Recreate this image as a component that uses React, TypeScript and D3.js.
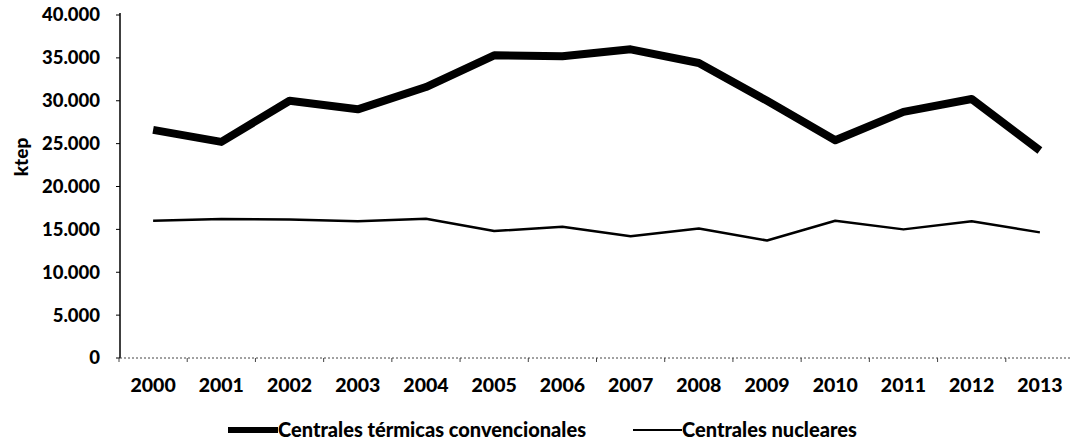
import React from "react";
import * as d3 from "d3";

const years = ["2000","2001","2002","2003","2004","2005","2006","2007","2008","2009","2010","2011","2012","2013"];
const termicas = [26600, 25200, 30000, 29000, 31600, 35300, 35200, 36000, 34400, 30000, 25400, 28700, 30200, 24200];
const nucleares = [16000, 16200, 16150, 15950, 16250, 14800, 15300, 14200, 15100, 13700, 16000, 15000, 15950, 14650];
const yTicks = [0, 5000, 10000, 15000, 20000, 25000, 30000, 35000, 40000];
const seriesNames = ["Centrales térmicas convencionales", "Centrales nucleares"];

const W = 1070, H = 444;
const FONT = "Lato, 'Open Sans', sans-serif";

const fmt = (v: number) => (v === 0 ? "0" : d3.format(",")(v).replace(/,/g, "."));

export default function App() {
  const x = d3.scaleBand<string>().domain(years).range([119, 1074]).padding(0);
  const y = d3.scaleLinear().domain([0, 40000]).range([358, 15]);
  const cx = (i: number) => (x(years[i]) as number) + x.bandwidth() / 2;
  const line = d3.line<number>().x((_, i) => cx(i)).y((d) => y(d));
  const boundaries = years.map((yr) => x(yr) as number).concat([x.range()[1]]);

  return (
    <svg width={W} height={H} style={{ position: "absolute", left: 0, top: 0, background: "#fff" }} fontFamily={FONT}>
      <rect x={0} y={0} width={W} height={H} fill="#fff" />
      {/* y axis */}
      <line x1={120} x2={120} y1={y(40000) - 2} y2={y(0)} stroke="#000" strokeWidth={1.5} />
      {yTicks.map((t) => (
        <g key={t}>
          <line x1={116} x2={120} y1={y(t)} y2={y(t)} stroke="#000" strokeWidth={1} />
          <text x={100} y={y(t)} dy="0.35em" textAnchor="end" fontSize={18.5} fontWeight="900" fill="#000">
            {fmt(t)}
          </text>
        </g>
      ))}
      <text
        transform={`translate(28,157) rotate(-90)`}
        textAnchor="middle"
        fontSize={19}
        fontWeight="900"
        fill="#000"
      >
        ktep
      </text>
      {/* x axis */}
      <line x1={120} x2={W} y1={y(0)} y2={y(0)} stroke="#444" strokeWidth={1} strokeDasharray="2,2" />
      {boundaries.map((b, i) => (
        <line key={i} x1={b} x2={b} y1={y(0)} y2={y(0) + 4} stroke="#444" strokeWidth={1} />
      ))}
      {years.map((yr, i) => (
        <text key={yr} x={cx(i)} y={392} textAnchor="middle" fontSize={19.5} fontWeight="900" fill="#000">
          {yr}
        </text>
      ))}
      {/* lines */}
      <path d={line(nucleares) || ""} fill="none" stroke="#000" strokeWidth={2.5} strokeLinejoin="round" />
      <path d={line(termicas) || ""} fill="none" stroke="#000" strokeWidth={8} strokeLinejoin="round" />
      {/* legend */}
      <line x1={228} x2={278} y1={430} y2={430} stroke="#000" strokeWidth={6} />
      <text x={278} y={437} fontSize={20} fontWeight="900" fill="#000">{seriesNames[0]}</text>
      <line x1={633} x2={682} y1={430} y2={430} stroke="#000" strokeWidth={2} />
      <text x={682} y={437} fontSize={20} fontWeight="900" fill="#000">{seriesNames[1]}</text>
    </svg>
  );
}
